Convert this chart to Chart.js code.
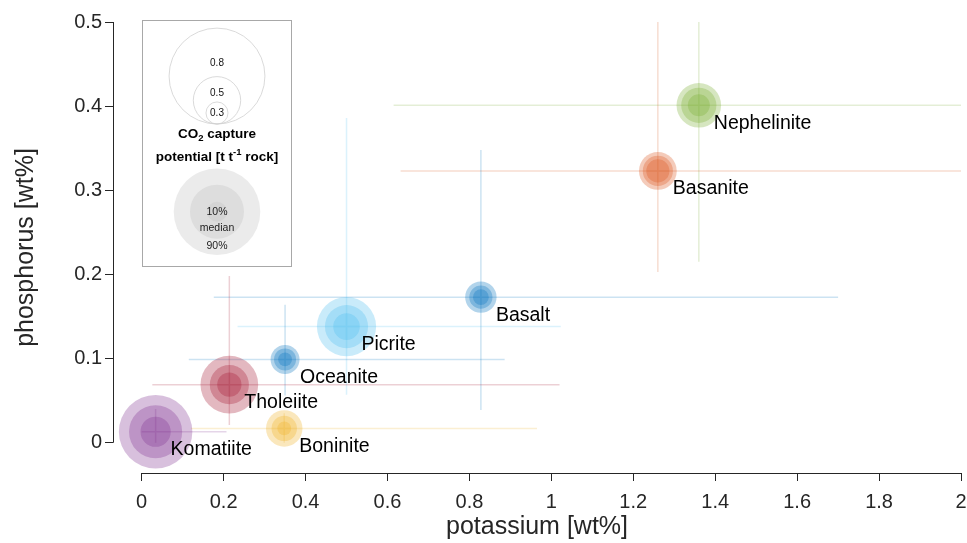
<!DOCTYPE html>
<html>
<head>
<meta charset="utf-8">
<script src="https://cdn.jsdelivr.net/npm/chart.js@4.4.1/dist/chart.umd.min.js"></script>
<style>
  html, body { margin: 0; padding: 0; background: #fff; }
</style>
</head>
<body>
<canvas id="chart" width="967" height="543"></canvas>
<script>
// rock types and their mean composition
const rocks = ["Komatiite", "Tholeiite", "Boninite", "Oceanite", "Picrite", "Basalt", "Basanite", "Nephelinite"];
const potassium = [0.034, 0.214, 0.348, 0.350, 0.500, 0.828, 1.260, 1.360];
const phosphorus = [0.013, 0.069, 0.017, 0.099, 0.138, 0.173, 0.323, 0.401];

// spread (error bars)
const kLow = [0.000, 0.026, 0.120, 0.115, 0.234, 0.176, 0.632, 0.615];
const kHigh = [0.207, 1.020, 0.965, 0.886, 1.023, 1.700, 2.000, 2.000];
const pLow = [0.000, 0.021, 0.000, 0.056, 0.057, 0.039, 0.203, 0.215];
const pHigh = [0.040, 0.198, 0.035, 0.164, 0.386, 0.348, 0.500, 0.500];

// CO2 capture potential [t/t rock]
const co2P90 = [0.67, 0.57, 0.42, 0.36, 0.58, 0.38, 0.43, 0.48];
const co2Median = [0.54, 0.44, 0.33, 0.30, 0.47, 0.31, 0.37, 0.41];
const co2P10 = [0.37, 0.32, 0.22, 0.22, 0.34, 0.24, 0.31, 0.30];

const rockColors = ["126,47,142", "162,20,47", "237,177,32", "0,114,189", "77,190,238", "0,114,189", "217,83,25", "119,172,48"];

const legendSizes = [0.8, 0.5, 0.3];
const xTicks = [0, 0.2, 0.4, 0.6, 0.8, 1, 1.2, 1.4, 1.6, 1.8, 2];
const yTicks = [0, 0.1, 0.2, 0.3, 0.4, 0.5];

const FONT = '"Liberation Sans", Arial, Helvetica, sans-serif';
const AXIS = "#262626";

// bubble radius in px from capture potential
function rad(v) {
  return 67 * Math.pow(v, 1.5);
}

// tick labels should not push the plot box in
function noScalePadding(s) {
  s.paddingLeft = 0;
  s.paddingRight = 0;
  s.paddingTop = 0;
  s.paddingBottom = 0;
}

const datasets = [];

rocks.forEach((name, i) => {
  datasets.push({
    type: "bubble",
    label: name,
    order: 0,
    clip: false,
    data: [
      { x: potassium[i], y: phosphorus[i], r: rad(co2P90[i]) },
      { x: potassium[i], y: phosphorus[i], r: rad(co2Median[i]) },
      { x: potassium[i], y: phosphorus[i], r: rad(co2P10[i]) },
    ],
    backgroundColor: `rgba(${rockColors[i]},0.3)`,
    borderWidth: 0,
    hoverBorderWidth: 0,
  });
});

rocks.forEach((name, i) => {
  datasets.push({
    type: "scatter",
    label: name + " range",
    order: 1,
    clip: false,
    showLine: true,
    spanGaps: false,
    pointRadius: 0,
    borderWidth: 1.5,
    borderColor: `rgba(${rockColors[i]},0.2)`,
    data: [
      { x: kLow[i], y: phosphorus[i] },
      { x: kHigh[i], y: phosphorus[i] },
      { x: potassium[i], y: null },
      { x: potassium[i], y: pLow[i] },
      { x: potassium[i], y: pHigh[i] },
    ],
  });
});

// draws a line of text made of parts (sub/superscripts), centred on cx
function drawRich(ctx, parts, cx, y) {
  let total = 0;
  parts.forEach(p => {
    ctx.font = p.font;
    total += ctx.measureText(p.t).width;
  });
  let x = cx - total / 2;
  ctx.textAlign = "left";
  parts.forEach(p => {
    ctx.font = p.font;
    ctx.fillText(p.t, x, y + (p.dy || 0));
    x += ctx.measureText(p.t).width;
  });
}

const decorations = {
  id: "decorations",
  beforeDatasetsDraw(chart) {
    const { ctx, chartArea, scales } = chart;
    const xs = scales.x, ys = scales.y;
    ctx.save();
    ctx.strokeStyle = AXIS;
    ctx.lineWidth = 1;
    ctx.beginPath();
    const by = Math.round(chartArea.bottom) + 0.5;
    ctx.moveTo(xs.getPixelForValue(xTicks[0]), by);
    ctx.lineTo(xs.getPixelForValue(xTicks[xTicks.length - 1]), by);
    const lx = Math.round(chartArea.left) + 0.5;
    ctx.moveTo(lx, ys.getPixelForValue(yTicks[0]));
    ctx.lineTo(lx, ys.getPixelForValue(yTicks[yTicks.length - 1]));
    ctx.stroke();
    ctx.restore();
  },
  afterDatasetsDraw(chart) {
    const { ctx, scales } = chart;
    ctx.save();
    ctx.fillStyle = "#000";
    ctx.font = "19.5px " + FONT;
    ctx.textAlign = "left";
    ctx.textBaseline = "middle";
    rocks.forEach((name, i) => {
      const px = scales.x.getPixelForValue(potassium[i]);
      const py = scales.y.getPixelForValue(phosphorus[i]);
      ctx.fillText(name, px + 15, py + 18);
    });
    ctx.restore();

    // legend box
    const bx = 142.5, by = 20.5, bw = 149, bh = 246;
    const cx = bx + bw / 2;
    ctx.save();
    ctx.fillStyle = "#fff";
    ctx.fillRect(bx, by, bw, bh);
    ctx.strokeStyle = "#a8a8a8";
    ctx.lineWidth = 1;
    ctx.strokeRect(bx, by, bw, bh);

    // size scale circles, all touching at the bottom
    const base = 124;
    const labelY = [63, 93, 113];
    ctx.strokeStyle = "#d0d0d0";
    ctx.lineWidth = 0.8;
    ctx.fillStyle = "#111";
    ctx.font = "10px " + FONT;
    ctx.textAlign = "center";
    ctx.textBaseline = "middle";
    legendSizes.forEach(v => {
      const r = rad(v);
      ctx.beginPath();
      ctx.arc(cx, base - r, r, 0, Math.PI * 2);
      ctx.stroke();
    });
    legendSizes.forEach((v, j) => {
      ctx.fillText(String(v), cx, labelY[j]);
    });

    ctx.fillStyle = "#000";
    ctx.textBaseline = "middle";
    const bold = "bold 13.5px " + FONT;
    const boldSmall = "bold 9.5px " + FONT;
    drawRich(ctx, [
      { t: "CO", font: bold },
      { t: "2", font: boldSmall, dy: 4 },
      { t: " capture", font: bold },
    ], cx, 134);
    drawRich(ctx, [
      { t: "potential [t t", font: bold },
      { t: "-1", font: boldSmall, dy: -5 },
      { t: " rock]", font: bold },
    ], cx, 157);

    // percentile circles
    const gy = 211.7;
    [[43.3, "#ebebeb"], [27, "#dddddd"], [10, "#d4d4d4"]].forEach(([r, c]) => {
      ctx.beginPath();
      ctx.fillStyle = c;
      ctx.arc(cx, gy, r, 0, Math.PI * 2);
      ctx.fill();
    });
    ctx.fillStyle = "#222";
    ctx.font = "10.5px " + FONT;
    ctx.textAlign = "center";
    ctx.fillText("10%", cx, gy);
    ctx.fillText("median", cx, 228.5);
    ctx.fillText("90%", cx, 246);
    ctx.restore();
  },
};

new Chart(document.getElementById("chart"), {
  data: { datasets: datasets },
  options: {
    responsive: false,
    animation: false,
    events: [],
    // bubbles may spill over the axes, don't let them shrink the plot
    layout: { autoPadding: false, padding: { top: 22, right: 6, left: 0, bottom: 0 } },
    plugins: {
      legend: { display: false },
      tooltip: { enabled: false },
    },
    scales: {
      x: {
        type: "linear",
        min: -0.07,
        max: 2,
        afterBuildTicks: s => { s.ticks = xTicks.map(v => ({ value: v })); },
        afterFit: s => { s.height = 70; noScalePadding(s); },
        grid: { drawOnChartArea: false, drawTicks: true, tickLength: 8, color: AXIS, lineWidth: 1 },
        border: { display: false },
        ticks: {
          padding: 9,
          color: AXIS,
          font: { size: 20, family: FONT },
          maxRotation: 0,
          autoSkip: false,
          callback: v => String(v),
        },
        title: {
          display: true,
          text: "potassium [wt%]",
          color: AXIS,
          font: { size: 25, family: FONT },
          padding: { top: 0, bottom: 1 },
        },
      },
      y: {
        type: "linear",
        min: -0.036,
        max: 0.5,
        afterBuildTicks: s => { s.ticks = yTicks.map(v => ({ value: v })); },
        afterFit: s => { s.width = 113; noScalePadding(s); },
        grid: { drawOnChartArea: false, drawTicks: true, tickLength: 8, color: AXIS, lineWidth: 1 },
        border: { display: false },
        ticks: {
          padding: 3,
          color: AXIS,
          font: { size: 20, family: FONT },
          autoSkip: false,
          callback: v => String(v),
        },
        title: {
          display: true,
          text: "phosphorus [wt%]",
          color: AXIS,
          font: { size: 25, family: FONT },
          padding: { top: 11, bottom: 0 },
        },
      },
    },
  },
  plugins: [decorations],
});
</script>
</body>
</html>
